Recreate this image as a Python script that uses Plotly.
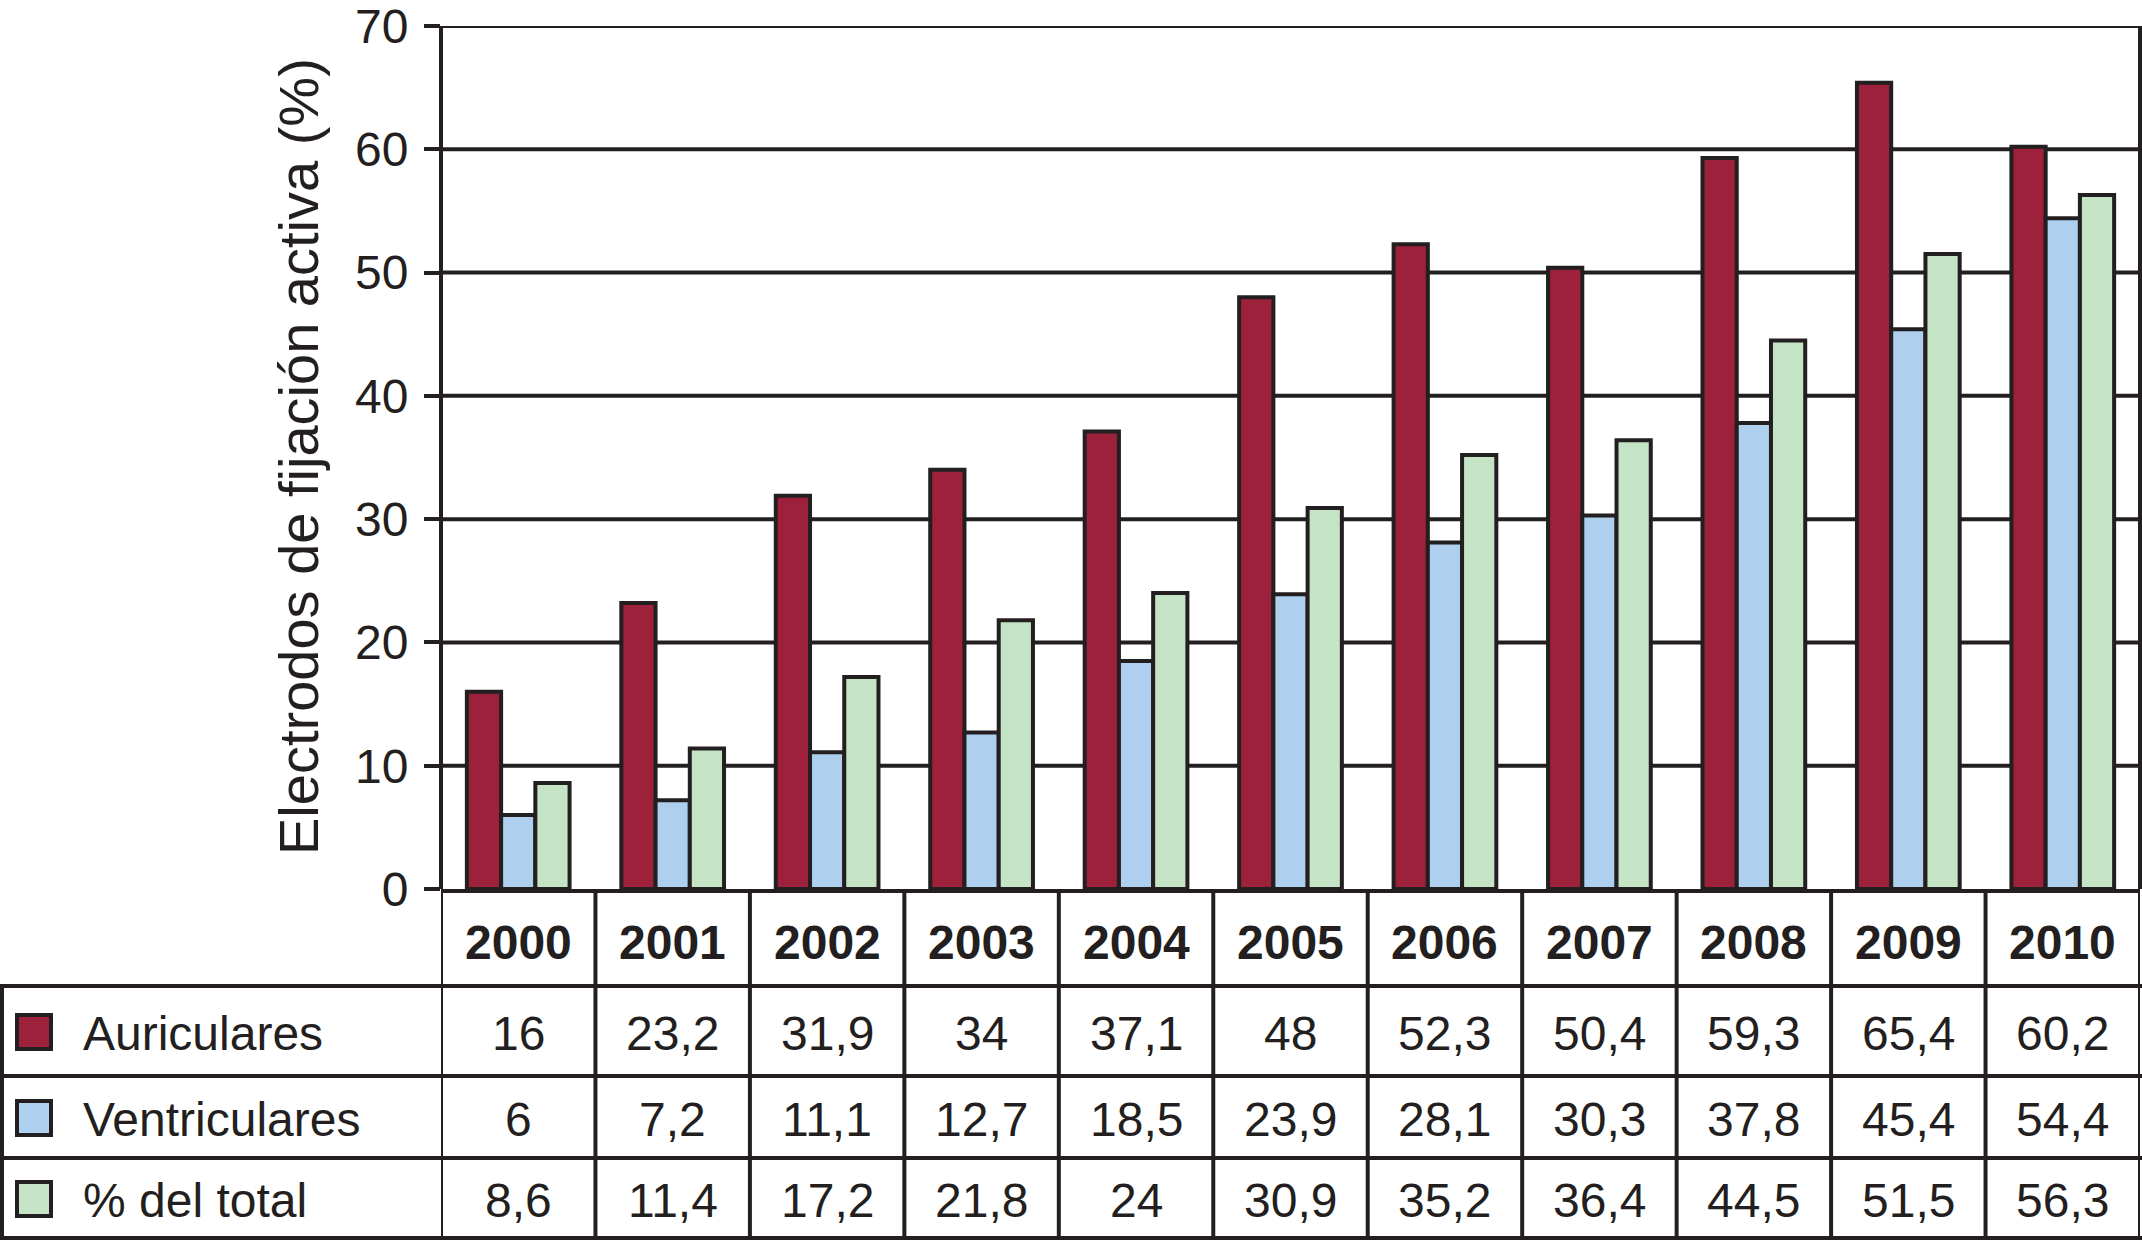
import plotly.graph_objects as go

years = ["2000", "2001", "2002", "2003", "2004", "2005", "2006", "2007", "2008", "2009", "2010"]
auriculares = [16, 23.2, 31.9, 34, 37.1, 48, 52.3, 50.4, 59.3, 65.4, 60.2]
ventriculares = [6, 7.2, 11.1, 12.7, 18.5, 23.9, 28.1, 30.3, 37.8, 45.4, 54.4]
pct_total = [8.6, 11.4, 17.2, 21.8, 24, 30.9, 35.2, 36.4, 44.5, 51.5, 56.3]
series_names = ["Auriculares", "Ventriculares", "% del total"]
series_values = [auriculares, ventriculares, pct_total]
series_colors = ["#9D213A", "#AECFED", "#C5E4C5"]
y_title = "Electrodos de fijación activa (%)"
y_ticks = [0, 10, 20, 30, 40, 50, 60, 70]

W, H = 2142, 1241
INK = "#231F20"
FONT = "Liberation Sans, Arial, sans-serif"


def px(x):
    return x / W


def py(y):
    return 1 - y / H


def fmt(v):
    if float(v).is_integer():
        return str(int(v))
    return str(v).replace(".", ",")


fig = go.Figure()
for name, vals, col in zip(series_names, series_values, series_colors):
    fig.add_trace(go.Bar(
        x=years, y=vals, name=name,
        marker=dict(color=col, line=dict(color=INK, width=4)),
        hoverinfo="skip",
    ))

# plot-area geometry (pixels)
X_LEFT, X_RIGHT = 441, 2140
Y_ZERO, Y_TOP = 889, 26
Y_MAX = 70
HEAD_BOT = 986
ROW_BOTS = [1076, 1158, 1238]
ROW_TOPS = [HEAD_BOT, 1076, 1158]
LW = 4

shapes = []
# horizontal gridlines
for t in y_ticks[1:]:
    shapes.append(dict(type="line", xref="paper", yref="y", layer="below",
                       x0=px(X_LEFT), x1=px(X_RIGHT), y0=t, y1=t,
                       line=dict(color=INK, width=4)))
# left and right frame lines
for xx in (X_LEFT, X_RIGHT):
    shapes.append(dict(type="line", xref="paper", yref="paper",
                       x0=px(xx), x1=px(xx), y0=py(Y_ZERO), y1=py(Y_TOP),
                       line=dict(color=INK, width=LW)))
# header row vertical separators
for i in range(len(years) + 1):
    shapes.append(dict(type="line", xref="x", yref="paper",
                       x0=i - 0.5, x1=i - 0.5, y0=py(Y_ZERO), y1=py(HEAD_BOT),
                       line=dict(color=INK, width=LW)))
# horizontal table lines
for yy in [HEAD_BOT] + ROW_BOTS:
    shapes.append(dict(type="line", xref="paper", yref="paper",
                       x0=px(0), x1=px(X_RIGHT + 2), y0=py(yy), y1=py(yy),
                       line=dict(color=INK, width=LW)))
# left border of data rows
shapes.append(dict(type="line", xref="paper", yref="paper",
                   x0=px(2), x1=px(2), y0=py(HEAD_BOT), y1=py(ROW_BOTS[-1]),
                   line=dict(color=INK, width=LW)))
# column separators in data rows
for i in range(len(years) + 1):
    shapes.append(dict(type="line", xref="x", yref="paper",
                       x0=i - 0.5, x1=i - 0.5, y0=py(HEAD_BOT), y1=py(ROW_BOTS[-1]),
                       line=dict(color=INK, width=LW)))

annotations = []
# year headers
for i, yr in enumerate(years):
    annotations.append(dict(x=i, xref="x", y=py((Y_ZERO + HEAD_BOT) / 2 + 5), yref="paper",
                            text="<b>%s</b>" % yr, showarrow=False,
                            xanchor="center", yanchor="middle",
                            font=dict(family=FONT, size=48, color=INK)))
# data rows
for r, (name, vals, col) in enumerate(zip(series_names, series_values, series_colors)):
    yc = (ROW_TOPS[r] + ROW_BOTS[r]) / 2
    shapes.append(dict(type="rect", xref="paper", yref="paper",
                       x0=px(17), x1=px(51), y0=py(yc - 16), y1=py(yc + 18),
                       fillcolor=col, line=dict(color=INK, width=4)))
    annotations.append(dict(x=px(81), xref="paper", y=py(yc + 2), yref="paper",
                            text=name, showarrow=False,
                            xanchor="left", yanchor="middle",
                            font=dict(family=FONT, size=48, color=INK)))
    for i, v in enumerate(vals):
        annotations.append(dict(x=i, xref="x", y=py(yc + 2), yref="paper",
                                text=fmt(v), showarrow=False,
                                xanchor="center", yanchor="middle",
                                font=dict(family=FONT, size=48, color=INK)))
# y-axis title
annotations.append(dict(x=px(299), xref="paper", y=py(457), yref="paper",
                        text=y_title, textangle=-90, showarrow=False,
                        xanchor="center", yanchor="middle",
                        font=dict(family=FONT, size=56, color=INK)))

fig.update_layout(
    width=W, height=H,
    margin=dict(l=0, r=0, t=0, b=0, pad=0, autoexpand=False),
    paper_bgcolor="white", plot_bgcolor="white",
    barmode="group", bargap=0.335, bargroupgap=0,
    showlegend=False,
    font=dict(family=FONT, color=INK),
    xaxis=dict(domain=[px(X_LEFT), px(X_RIGHT)], type="category",
               range=[-0.5, len(years) - 0.5], automargin=False,
               showticklabels=False, ticks="", showgrid=False, zeroline=False,
               showline=True, linecolor=INK, linewidth=LW),
    yaxis=dict(domain=[py(Y_ZERO), py(Y_TOP)], range=[0, Y_MAX], automargin=False,
               tickmode="array", tickvals=y_ticks, ticktext=[str(t) for t in y_ticks],
               ticklabeloverflow="allow",
               showgrid=False, zeroline=False, showline=False,
               ticks="outside", ticklen=16, tickwidth=LW, tickcolor=INK,
               ticklabelstandoff=6,
               tickfont=dict(family=FONT, size=48, color=INK)),
    shapes=shapes,
    annotations=annotations,
)

fig.write_html("out.html", config={"displayModeBar": False},
               post_script="document.body.style.margin='0';document.body.style.overflow='hidden';")
